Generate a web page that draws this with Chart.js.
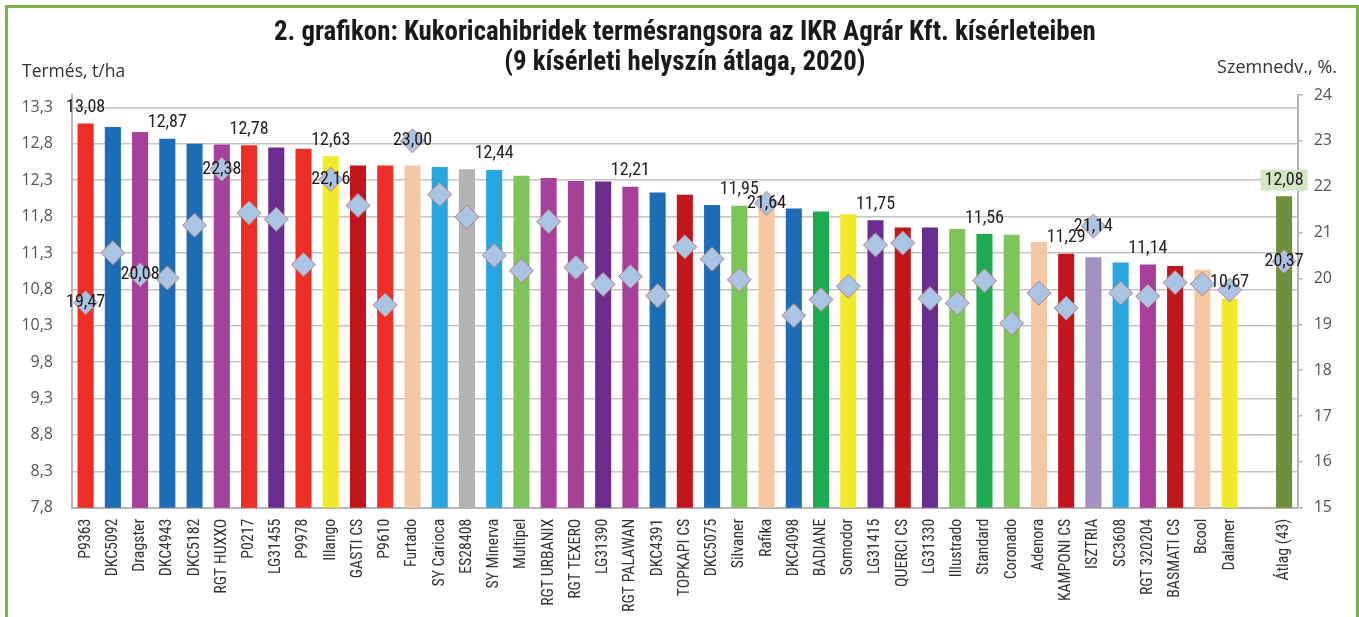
<!DOCTYPE html>
<html><head><meta charset="utf-8">
<script src="https://cdn.jsdelivr.net/npm/chart.js@4.4.1/dist/chart.umd.min.js"></script>
<style>
html,body{margin:0;padding:0;background:#fff;}
#wrap{position:relative;width:1359px;height:617px;overflow:hidden;}
#frame{position:absolute;left:5px;top:5px;width:1348px;height:700px;border:3px solid #78b646;pointer-events:none;}
canvas{display:block}
</style></head><body>
<div id="wrap"><canvas id="c" width="1359" height="617"></canvas><div id="frame"></div></div>
<script>
const categories = ['P9363','DKC5092','Dragster','DKC4943','DKC5182','RGT HUXXO','P0217','LG31455','P9978','Illango','GASTI CS','P9610','Furtado','SY Carioca','ES28408','SY Minerva','Multipel','RGT URBANIX','RGT TEXERO','LG31390','RGT PALAWAN','DKC4391','TOPKAPI CS','DKC5075','Silvaner','Rafika','DKC4098','BADIANE','Somodor','LG31415','QUERCI CS','LG31330','Illustrado','Standard','Coronado','Adenora','KAMPONI CS','ISZTRIA','SC3608','RGT 320204','BASMATI CS','Bcool','Dalamer','','Átlag (43)'];
const yieldValues = [13.08,13.03,12.96,12.87,12.80,12.79,12.78,12.75,12.73,12.63,12.50,12.50,12.50,12.48,12.45,12.44,12.36,12.33,12.29,12.28,12.21,12.13,12.10,11.96,11.95,11.92,11.91,11.87,11.83,11.75,11.65,11.65,11.63,11.56,11.55,11.45,11.29,11.24,11.17,11.14,11.12,11.07,10.67,null,12.08];
const moistureValues = [19.47,20.56,20.08,20.01,21.16,22.38,21.43,21.29,20.30,22.16,21.59,19.42,23.00,21.83,21.34,20.50,20.17,21.24,20.24,19.87,20.04,19.62,20.69,20.42,19.97,21.64,19.19,19.54,19.83,20.73,20.77,19.56,19.46,19.95,19.02,19.68,19.35,21.14,19.68,19.61,19.91,19.88,19.75,null,20.37];
const yieldTicks = [7.8,8.3,8.8,9.3,9.8,10.3,10.8,11.3,11.8,12.3,12.8,13.3];
const moistureTicks = [15,16,17,18,19,20,21,22,23,24];
const yieldLabelIdx = [0,3,6,9,15,20,24,29,33,36,39,42,44];
const moistureLabelIdx = [0,2,5,9,12,25,37,44];
const titleLines = ['2. grafikon: Kukoricahibridek termésrangsora az IKR Agrár Kft. kísérleteiben','(9 kísérleti helyszín átlaga, 2020)'];
const leftAxisTitle = 'Termés, t/ha';
const rightAxisTitle = 'Szemnedv., %.';

const P = {red:'#ec2f24',blue:'#1c6cb6',mag:'#a7409b',pur:'#6b2d8f',yel:'#f3e92b',dred:'#c1161c',peach:'#f7c7a3',lblue:'#27a6e0',gray:'#b3b3b3',lgreen:'#7dc45b',green:'#1eab50',lav:'#a391c1',olive:'#6e8f3b'};
const barColors = [P.red,P.blue,P.mag,P.blue,P.blue,P.mag,P.red,P.pur,P.red,P.yel,P.dred,P.red,P.peach,P.lblue,P.gray,P.lblue,P.lgreen,P.mag,P.mag,P.pur,P.mag,P.blue,P.dred,P.blue,P.lgreen,P.peach,P.blue,P.green,P.yel,P.pur,P.dred,P.pur,P.lgreen,P.green,P.lgreen,P.peach,P.dred,P.lav,P.lblue,P.mag,P.dred,P.peach,P.yel,P.gray,P.olive];

const fmt = (v, d) => v.toFixed(d).replace('.', ',');
const COND = "'Roboto Condensed', sans-serif";
const SANS = "'Open Sans', sans-serif";

// font sizes fitted to the widths measured on the reference
const mctx = document.createElement('canvas').getContext('2d');
function fitSize(text, weight, family, target) {
  mctx.font = weight + ' 100px ' + family;
  return Math.round(100 * target / mctx.measureText(text).width * 10) / 10;
}
const titleSize = fitSize(titleLines[0], 'bold', COND, 821);
const xLabelSize = Math.max(fitSize('RGT HUXXO', 'normal', COND, 75), 14.5);
const valueSize = fitSize('12,87', 'normal', COND, 39);

const labelPlugin = {
  id: 'valueLabels',
  afterDatasetsDraw(chart) {
    const ctx = chart.ctx;
    ctx.save();
    ctx.font = valueSize + 'px ' + COND;
    ctx.textAlign = 'center';
    ctx.textBaseline = 'middle';
    const mb = chart.getDatasetMeta(0);
    yieldLabelIdx.forEach(i => {
      const el = mb.data[i];
      const txt = fmt(yieldValues[i], 2);
      const x = el.x, y = el.y - 16;
      if (i === categories.length - 1) {
        const w = ctx.measureText(txt).width + 8;
        ctx.fillStyle = '#d3e7c2';
        ctx.fillRect(x - w / 2, y - 10.5, w, 21);
      }
      ctx.fillStyle = '#222';
      ctx.fillText(txt, x, y);
    });
    const ml = chart.getDatasetMeta(1);
    moistureLabelIdx.forEach(i => {
      const el = ml.data[i];
      ctx.fillStyle = '#1a1a1a';
      ctx.fillText(fmt(moistureValues[i], 2), el.x, el.y);
    });
    ctx.restore();
  }
};
const axisTitlePlugin = {
  id: 'axisTitles',
  afterDraw(chart) {
    const ctx = chart.ctx;
    ctx.save();
    ctx.fillStyle = '#333';
    ctx.textBaseline = 'middle';
    ctx.textAlign = 'left';
    ctx.font = '17.5px ' + SANS;
    ctx.fillText(leftAxisTitle, 22, 72);
    ctx.textAlign = 'right';
    ctx.font = '18px ' + SANS;
    ctx.fillText(rightAxisTitle, 1337, 68);
    ctx.restore();
  }
};

new Chart(document.getElementById('c'), {
  data: {
    labels: categories,
    datasets: [
      { type: 'bar', data: yieldValues, backgroundColor: barColors, yAxisID: 'y', barPercentage: 0.59, categoryPercentage: 1.0, order: 2 },
      { type: 'line', data: moistureValues, yAxisID: 'yR', showLine: false, pointStyle: 'rectRot', pointRadius: 12, pointBackgroundColor: '#a9c4e4', pointBorderColor: '#bf7f78', pointBorderWidth: 1, order: 1 }
    ]
  },
  options: {
    responsive: false,
    animation: false,
    layout: { padding: 0 },
    plugins: {
      legend: { display: false },
      tooltip: { enabled: false },
      title: { display: true, fullSize: false, text: titleLines, color: '#1a1a1a',
        font: { family: COND, size: titleSize, weight: 'bold', lineHeight: 30 / titleSize }, padding: { top: 18, bottom: 17 } }
    },
    scales: {
      x: {
        grid: { display: false, drawTicks: false },
        border: { display: true, color: '#b5b5b5', width: 2 },
        ticks: { autoSkip: false, maxRotation: 90, minRotation: 90, padding: 11, color: '#333', font: { family: COND, size: xLabelSize } },
        afterFit(s) { s.height = 617 - 507.7; }
      },
      y: {
        position: 'left', min: 7.8, max: 13.47,
        afterBuildTicks(s) { s.ticks = yieldTicks.map(v => ({ value: v })); },
        grid: { color: '#c4c4c4', lineWidth: 1.5, drawTicks: false },
        border: { display: true, color: '#b5b5b5', width: 2 },
        ticks: { padding: 19, color: '#555', font: { family: SANS, size: 16 }, callback: v => fmt(v, 1) },
        afterFit(s) { s.width = 72; }
      },
      yR: {
        position: 'right', min: 15, max: 24,
        afterBuildTicks(s) { s.ticks = moistureTicks.map(v => ({ value: v })); },
        grid: { drawOnChartArea: false, color: '#b5b5b5', tickLength: 5, lineWidth: 1.5 },
        border: { display: true, color: '#b5b5b5', width: 2 },
        ticks: { padding: 11, color: '#555', font: { family: SANS, size: 16 }, callback: v => String(v) },
        afterFit(s) { s.width = 1359 - 1297.7; }
      }
    }
  },
  plugins: [labelPlugin, axisTitlePlugin]
});
</script>
</body></html>
